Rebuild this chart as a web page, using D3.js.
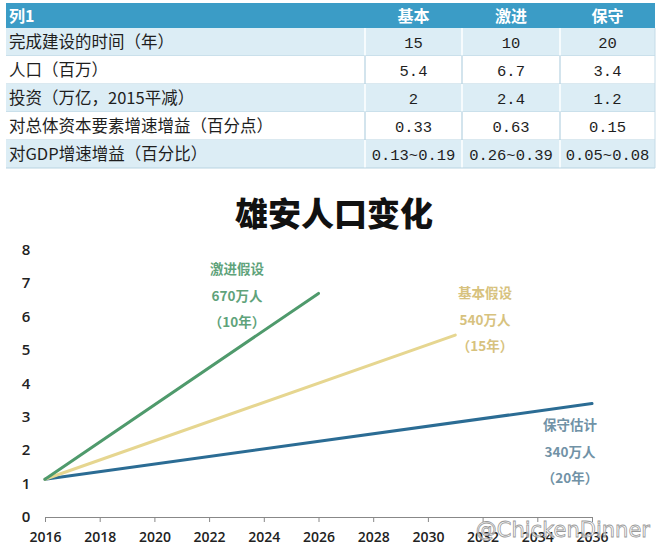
<!DOCTYPE html>
<html><head><meta charset="utf-8">
<script src="https://cdn.jsdelivr.net/npm/d3@7"></script>
<style>
html,body{margin:0;padding:0;background:#fff;}
svg{display:block;}
</style></head>
<body>
<svg id="c" width="660" height="549"></svg>
<script>
// ---------- data ----------
const headers = ["列1", "基本", "激进", "保守"];
const rowLabels = ["完成建设的时间（年）", "人口（百万）", "投资（万亿，2015平减）", "对总体资本要素增速增益（百分点）", "对GDP增速增益（百分比）"];
const basicCol = ["15", "5.4", "2", "0.33", "0.13~0.19"];
const aggressiveCol = ["10", "6.7", "2.4", "0.63", "0.26~0.39"];
const conservativeCol = ["20", "3.4", "1.2", "0.15", "0.05~0.08"];

const chartTitle = "雄安人口变化";
const aggressiveSeries = [{year: 2016, value: 1.13}, {year: 2026, value: 6.7}];
const basicSeries = [{year: 2016, value: 1.13}, {year: 2031, value: 5.45}];
const conservativeSeries = [{year: 2016, value: 1.13}, {year: 2036, value: 3.4}];
const aggressiveLabel = ["激进假设", "670万人", "（10年）"];
const basicLabel = ["基本假设", "540万人", "（15年）"];
const conservativeLabel = ["保守估计", "340万人", "（20年）"];
const yTicks = [0, 1, 2, 3, 4, 5, 6, 7, 8];
const xTicks = [2016, 2018, 2020, 2022, 2024, 2026, 2028, 2030, 2032, 2034, 2036];

// ---------- table ----------
const svg = d3.select("#c");
const cjk = "'Noto Sans CJK SC', 'Noto Sans', sans-serif";
const mono = "'Liberation Mono', 'DejaVu Sans Mono', monospace";
const colX = [6, 365, 462, 560, 655];
const tableTop = 3, headH = 25, rowH = 28;

const tbl = svg.append("g");
tbl.append("rect").attr("x", colX[0]).attr("y", tableTop).attr("width", colX[4] - colX[0]).attr("height", headH).attr("fill", "#3b9cc6");
headers.forEach((h, i) => {
  const t = tbl.append("text").attr("y", tableTop + headH / 2 + 6).attr("fill", "#fff")
    .attr("font-family", cjk).attr("font-weight", "bold").attr("font-size", 16).text(h);
  if (i === 0) t.attr("x", 9);
  else t.attr("x", (colX[i] + colX[i + 1]) / 2).attr("text-anchor", "middle");
});
const cols = [basicCol, aggressiveCol, conservativeCol];
rowLabels.forEach((lab, r) => {
  const y0 = tableTop + headH + r * rowH;
  const shaded = r % 2 === 0;
  tbl.append("rect").attr("x", colX[0]).attr("y", y0).attr("width", colX[4] - colX[0]).attr("height", rowH)
    .attr("fill", shaded ? "#dcedf5" : "#ffffff");
  const bc = shaded ? "#ffffff" : "#c5dbe7";
  [1, 2, 3].forEach(ci => {
    tbl.append("line").attr("x1", colX[ci]).attr("x2", colX[ci]).attr("y1", y0).attr("y2", y0 + rowH)
      .attr("stroke", bc).attr("stroke-width", 1.5);
  });
  tbl.append("line").attr("x1", colX[0]).attr("x2", colX[4]).attr("y1", y0 + rowH).attr("y2", y0 + rowH)
    .attr("stroke", "#b8d3e2").attr("stroke-width", 1.2);
  tbl.append("text").attr("x", 9).attr("y", y0 + rowH / 2 + 6).attr("fill", "#1e1e1e")
    .attr("font-family", cjk).attr("font-size", 16.5).text(lab);
  cols.forEach((c, ci) => {
    tbl.append("text").attr("x", (colX[ci + 1] + colX[ci + 2]) / 2).attr("y", y0 + rowH / 2 + 6)
      .attr("text-anchor", "middle").attr("fill", "#1e1e1e")
      .attr("font-family", mono).attr("font-size", 15.5).text(c[r]);
  });
});
tbl.append("line").attr("x1", colX[4]).attr("x2", colX[4]).attr("y1", tableTop + headH).attr("y2", tableTop + headH + 5 * rowH)
  .attr("stroke", "#c5dbe7").attr("stroke-width", 1);

// ---------- chart ----------
const x = d3.scaleLinear().domain([2016, 2036]).range([45, 592]);
const y = d3.scaleLinear().domain([0, 8]).range([517, 250]);

svg.append("text").attr("x", 334).attr("y", 226).attr("text-anchor", "middle")
  .attr("font-family", cjk).attr("font-weight", 900).attr("font-size", 33).attr("fill", "#111").text(chartTitle);

// y tick labels (no axis line)
svg.append("g").selectAll("text").data(yTicks).join("text")
  .attr("x", 26).attr("y", d => y(d) + 5).attr("text-anchor", "middle")
  .attr("font-family", "'Open Sans', sans-serif").attr("font-weight", 600).attr("font-size", 15)
  .attr("fill", "#222").text(d => d);

// x axis
const xAxis = svg.append("g").attr("transform", `translate(0,${y(0)})`)
  .call(d3.axisBottom(x).tickValues(xTicks).tickFormat(d3.format("d")).tickSize(5).tickSizeOuter(0));
xAxis.select(".domain").attr("stroke", "#888");
xAxis.selectAll(".tick line").attr("stroke", "#888");
xAxis.selectAll(".tick text").attr("font-family", "'Open Sans', sans-serif").attr("font-size", 14)
  .attr("font-weight", 600).attr("fill", "#222").attr("dy", "1.2em");

const line = d3.line().x(d => x(d.year)).y(d => y(d.value));
const series = [
  {data: conservativeSeries, color: "#2b6c94", lab: conservativeLabel, lc: "#7192a6", lx: 570, ly: 425},
  {data: basicSeries, color: "#e6d690", lab: basicLabel, lc: "#d7c27e", lx: 485, ly: 293},
  {data: aggressiveSeries, color: "#4f9a6c", lab: aggressiveLabel, lc: "#5fa37b", lx: 237, ly: 269}
];
series.forEach(s => {
  svg.append("path").datum(s.data).attr("d", line).attr("fill", "none")
    .attr("stroke", s.color).attr("stroke-width", 3).attr("stroke-linecap", "round");
  s.lab.forEach((t, i) => {
    svg.append("text").attr("x", s.lx).attr("y", s.ly + i * 26.5 + 5).attr("text-anchor", "middle")
      .attr("font-family", cjk).attr("font-weight", "bold").attr("font-size", 13.5)
      .attr("fill", s.lc).text(t);
  });
});

// watermark
svg.append("text").attr("x", 650).attr("y", 537).attr("text-anchor", "end")
  .attr("font-family", "'DejaVu Sans', sans-serif").attr("font-size", 21)
  .attr("fill", "rgba(255,255,255,0.6)").attr("stroke", "#9a9a9a").attr("stroke-width", 0.8)
  .text("@ChickenDinner");
</script>
</body></html>
